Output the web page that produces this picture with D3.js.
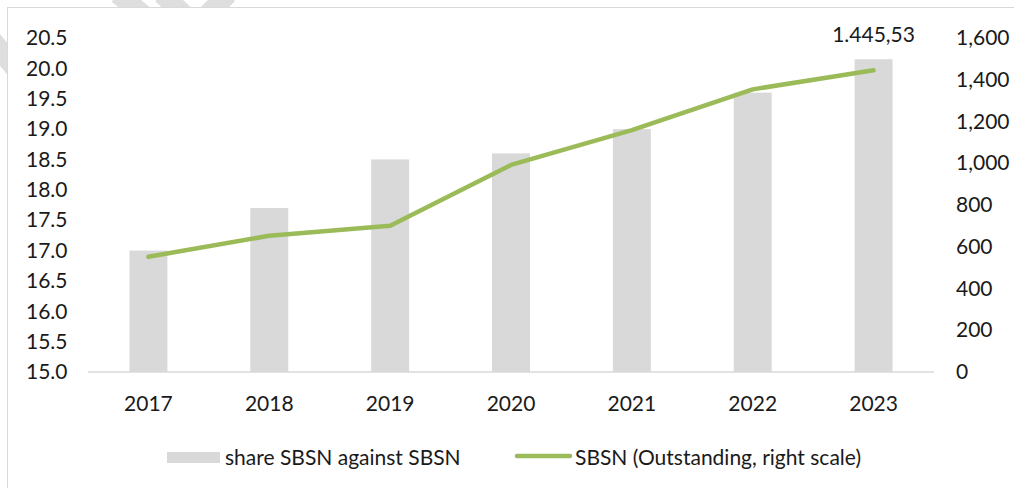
<!DOCTYPE html>
<html>
<head>
<meta charset="utf-8">
<script src="https://cdn.jsdelivr.net/npm/d3@7"></script>
<style>
  body { margin: 0; background: #fff; }
  svg text { font-family: Lato, "Open Sans", sans-serif; fill: #1a1a1a; }
</style>
</head>
<body>
<div id="chart"></div>
<script>
const years = ["2017", "2018", "2019", "2020", "2021", "2022", "2023"];
const shareValues = [17.0, 17.7, 18.5, 18.6, 19.0, 19.6, 20.15];
const outstanding = [552, 653, 701, 992, 1159, 1354, 1445.53];
const leftTicks = [15.0, 15.5, 16.0, 16.5, 17.0, 17.5, 18.0, 18.5, 19.0, 19.5, 20.0, 20.5];
const rightTicks = [0, 200, 400, 600, 800, 1000, 1200, 1400, 1600];
const lastLabel = "1.445,53";

const width = 1014, height = 488;
const margin = { top: 38, bottom: 116, left: 88, right: 80 };
const fontSize = "21px";

const svg = d3.select("#chart")
    .append("svg")
    .attr("width", width)
    .attr("height", height);

// faint watermark strokes peeking out behind the chart box
const marks = [[118, -6, 152, 22], [162, -6, 192, 22], [228, -6, 200, 22], [-8, 40, 18, 72]];
svg.selectAll("line.wm")
    .data(marks)
    .enter()
    .append("line")
    .attr("class", "wm")
    .attr("x1", d => d[0]).attr("y1", d => d[1])
    .attr("x2", d => d[2]).attr("y2", d => d[3])
    .attr("stroke", "#dedede")
    .attr("stroke-width", 20);

// outer border of the chart box
svg.append("rect")
    .attr("x", 7.5).attr("y", 7.5)
    .attr("width", width).attr("height", height)
    .attr("fill", "#fff")
    .attr("stroke", "#d9d9d9");

const x = d3.scaleBand()
    .domain(years)
    .range([margin.left, width - margin.right])
    .paddingInner(0.686)
    .paddingOuter(0.343);

const xPoint = d => x(d) + x.bandwidth() / 2;

const yLeft = d3.scaleLinear()
    .domain([15, 20.5])
    .range([height - margin.bottom, margin.top]);

const yRight = d3.scaleLinear()
    .domain([0, 1600])
    .range([height - margin.bottom, margin.top]);

// bars
svg.selectAll("rect.bar")
    .data(years)
    .enter()
    .append("rect")
    .attr("class", "bar")
    .attr("x", d => x(d))
    .attr("width", x.bandwidth())
    .attr("y", (d, i) => yLeft(shareValues[i]))
    .attr("height", (d, i) => yLeft(15) - yLeft(shareValues[i]))
    .attr("fill", "#d9d9d9");

// baseline
svg.append("line")
    .attr("x1", margin.left).attr("x2", width - margin.right)
    .attr("y1", yLeft(15)).attr("y2", yLeft(15))
    .attr("stroke", "#d9d9d9")
    .attr("stroke-width", 1.5);

// line series
const line = d3.line()
    .x((d, i) => xPoint(years[i]))
    .y(d => yRight(d));

svg.append("path")
    .datum(outstanding)
    .attr("d", line)
    .attr("fill", "none")
    .attr("stroke", "#9bbb59")
    .attr("stroke-width", 4.5)
    .attr("stroke-linecap", "round")
    .attr("stroke-linejoin", "round");

svg.append("text")
    .attr("x", xPoint(years[years.length - 1]))
    .attr("y", yRight(outstanding[outstanding.length - 1]) - 28)
    .attr("text-anchor", "middle")
    .style("font-size", fontSize)
    .text(lastLabel);

// left axis labels
const leftAxis = svg.append("g")
    .attr("transform", "translate(26,0)")
    .call(d3.axisLeft(yLeft).tickValues(leftTicks).tickFormat(d3.format(".1f")).tickSize(0));
leftAxis.select(".domain").remove();
leftAxis.selectAll("text")
    .attr("x", 0)
    .attr("text-anchor", "start")
    .style("font-size", fontSize);

// right axis labels
const rightAxis = svg.append("g")
    .attr("transform", "translate(956,0)")
    .call(d3.axisRight(yRight).tickValues(rightTicks).tickFormat(d3.format(",")).tickSize(0));
rightAxis.select(".domain").remove();
rightAxis.selectAll("text")
    .attr("x", 0)
    .style("font-size", fontSize);

// x axis labels
const xAxis = svg.append("g")
    .attr("transform", `translate(0,${yLeft(15)})`)
    .call(d3.axisBottom(x).tickSize(0).tickPadding(24));
xAxis.select(".domain").remove();
xAxis.selectAll("text").style("font-size", fontSize);

// legend
const legend = svg.append("g").attr("transform", "translate(0,458)");
legend.append("rect")
    .attr("x", 167).attr("y", -6)
    .attr("width", 53).attr("height", 11)
    .attr("fill", "#d9d9d9");
legend.append("text")
    .attr("x", 225).attr("dy", "0.35em")
    .style("font-size", fontSize)
    .text("share SBSN against SBSN");
legend.append("line")
    .attr("x1", 517).attr("x2", 570)
    .attr("y1", -2).attr("y2", -2)
    .attr("stroke", "#9bbb59")
    .attr("stroke-width", 4.5)
    .attr("stroke-linecap", "round");
legend.append("text")
    .attr("x", 575).attr("dy", "0.35em")
    .style("font-size", fontSize)
    .text("SBSN (Outstanding, right scale)");
</script>
</body>
</html>
